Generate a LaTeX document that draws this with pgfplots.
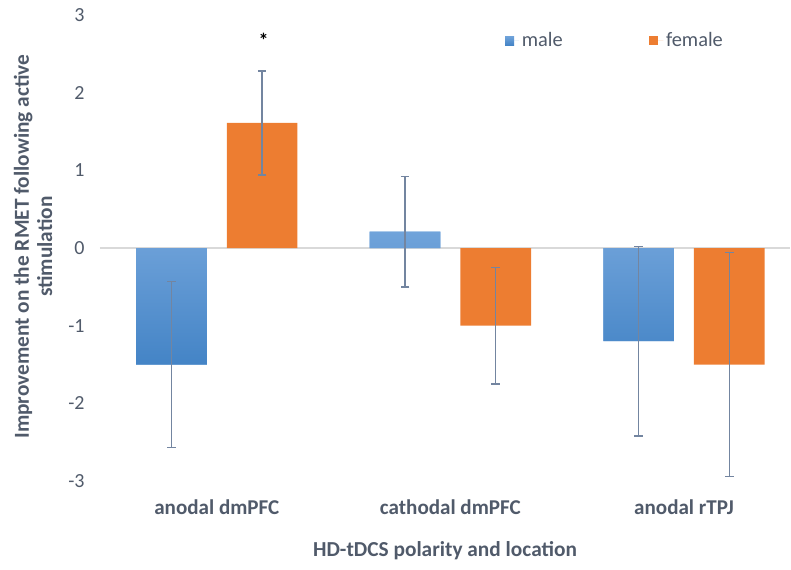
\documentclass[border=0pt]{standalone}
\usepackage{fontspec}
\setmainfont{Carlito}
\usepackage{pgfplots}
\pgfplotsset{compat=1.18}
\definecolor{txt}{RGB}{80,90,106}
\definecolor{orng}{RGB}{237,125,49}
\definecolor{bluetop}{RGB}{112,163,218}
\definecolor{bluebot}{RGB}{68,132,198}
\definecolor{errc}{RGB}{115,133,160}
\definecolor{zeroc}{RGB}{217,217,217}
\begin{document}
\begin{tikzpicture}
\useasboundingbox (-75pt,-66pt) rectangle (518.25pt,360.75pt);
\begin{axis}[
  scale only axis,
  width=517.5pt, height=349.5pt,
  ybar=15pt, bar width=53pt,
  xmin=-0.5, xmax=2.454,
  ymin=-3, ymax=3,
  xtick={0,1,2},
  xticklabels={anodal dmPFC, cathodal dmPFC, anodal rTPJ},
  ytick={-3,-2,-1,0,1,2,3},
  yticklabels={-3,-2,-1,0,1,2,3},
  axis line style={draw=none},
  major tick length=0pt,
  clip=false,
  x tick label style={font=\fontsize{15.8}{18}\selectfont\bfseries, text=txt, yshift=-10.5pt},
  y tick label style={font=\fontsize{15}{18}\selectfont, text=txt, xshift=-8pt},
  xlabel={HD-tDCS polarity and location},
  xlabel style={font=\fontsize{16}{18}\selectfont\bfseries, text=txt, at={(axis description cs:0.5,0)}, anchor=center, yshift=-52pt},
  ylabel={Improvement on the RMET following active\\stimulation},
  ylabel style={font=\fontsize{16}{17.5}\selectfont\bfseries, text=txt, align=center, at={(axis description cs:-0.0971,0.503)}, rotate=0, anchor=center},
  extra y ticks={0},
  extra y tick labels={},
  extra y tick style={grid=major, major grid style={zeroc, line width=0.9pt}},
  legend style={draw=none, fill=none, at={(axis description cs:0.581,0.945)}, anchor=west,
    font=\fontsize{15.3}{17}\selectfont, text=txt, legend columns=2,
    /tikz/every even column/.append style={column sep=63pt}},
  legend image code/.code={\fill[#1] (0pt,-3.4pt) rectangle (6.75pt,3.4pt); \path (0pt,0pt) -- (10.5pt,0pt);},
  error bars/y dir=both, error bars/y explicit,
  error bars/error bar style={errc, line width=1pt},
  error bars/error mark options={errc, rotate=90, mark size=3.2pt, line width=1pt},
]
\addplot[fill=bluetop, draw=none, top color=bluetop, bottom color=bluebot] coordinates {
  (0,-1.50) +- (0,1.07)
  (1,0.21)  +- (0,0.71)
  (2,-1.20) +- (0,1.22)
};
\addlegendentry{male}
\addplot[fill=orng, draw=none] coordinates {
  (0,1.61)  +- (0,0.67)
  (1,-1.00) +- (0,0.75)
  (2,-1.50) +- (0,1.44)
};
\addlegendentry{female}
\node[font=\fontsize{15}{15}\selectfont\bfseries, text=black] at (axis cs:0.2,2.68) {*};
\end{axis}
\end{tikzpicture}
\end{document}
